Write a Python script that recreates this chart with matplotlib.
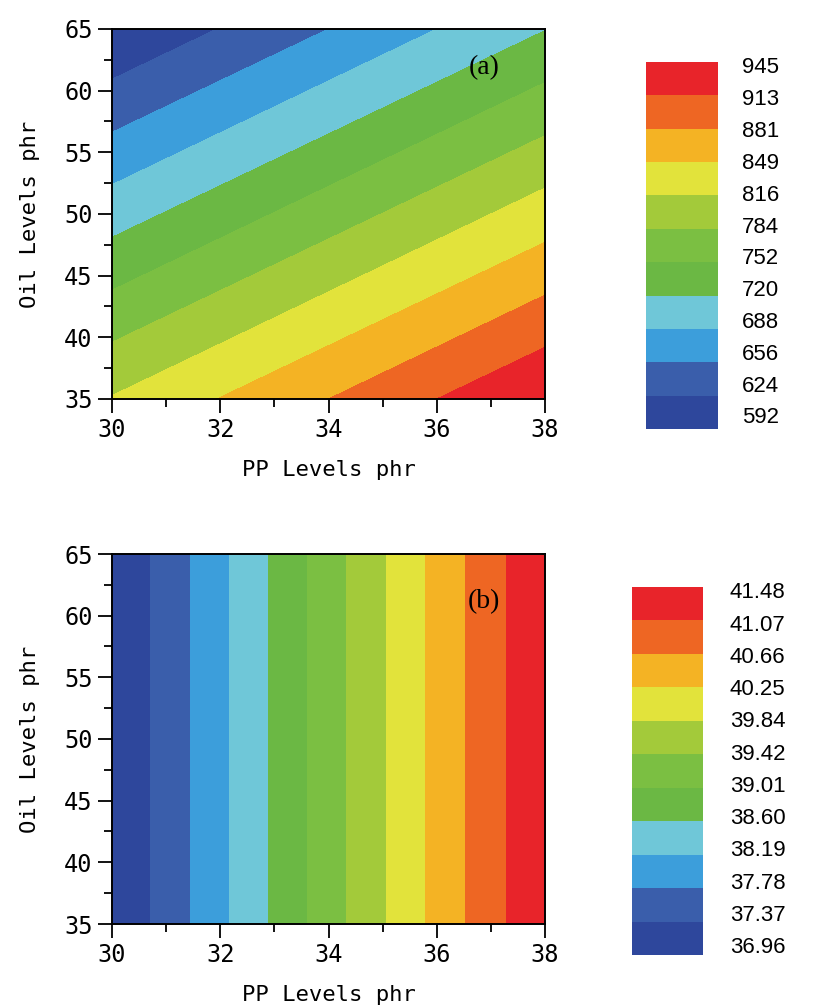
import numpy as np
import matplotlib
matplotlib.use("Agg")
import matplotlib.pyplot as plt
from matplotlib.ticker import MultipleLocator

# PP / Oil grid (phr) and response values (a)
pp_a = [30, 32, 34, 36, 38]
oil_a = [35, 40, 45, 50, 55, 60, 65]
resp_a = [
    [818, 850, 881, 913, 944],
    [781, 812, 844, 875, 907],
    [743, 775, 806, 838, 869],
    [706, 737, 769, 800, 832],
    [668, 700, 731, 763, 794],
    [631, 662, 694, 725, 757],
    [593, 625, 656, 688, 719],
]
levels_a = [592, 624, 656, 688, 720, 752, 784, 816, 849, 881, 913, 945]
labels_a = ["592", "624", "656", "688", "720", "752", "784", "816", "849", "881", "913", "945"]

# map (b) only changes along PP
pp_b = [30, 32, 34, 36, 38]
oil_b = [35, 65]
resp_b = [36.97, 38.10, 39.24, 40.37, 41.47]
levels_b = [36.96, 37.37, 37.78, 38.19, 38.60, 39.01, 39.42, 39.84, 40.25, 40.66, 41.07, 41.48]
labels_b = ["36.96", "37.37", "37.78", "38.19", "38.60", "39.01", "39.42", "39.84",
            "40.25", "40.66", "41.07", "41.48"]

band_colors = ["#2E479C", "#3A5EAB", "#3C9EDB", "#6FC7D8", "#6BB844", "#7BBF42",
               "#A3CA3A", "#E2E33B", "#F4B324", "#EE6623", "#E8242A"]

W, H = 813, 1008
fig = plt.figure(figsize=(W / 100, H / 100), dpi=100)

tick_font = {"family": "DejaVu Sans Mono", "size": 17}
label_font = {"family": "DejaVu Sans Mono", "size": 16}


def px_box(l, t, r, b):
    return [l / W, 1 - b / H, (r - l) / W, (b - t) / H]


def style_axes(ax):
    ax.set_xlim(30, 38)
    ax.set_ylim(35, 65)
    ax.xaxis.set_major_locator(MultipleLocator(2))
    ax.xaxis.set_minor_locator(MultipleLocator(1))
    ax.yaxis.set_major_locator(MultipleLocator(5))
    ax.yaxis.set_minor_locator(MultipleLocator(2.5))
    ax.tick_params(which="both", direction="out", top=False, right=False, width=1.3)
    ax.tick_params(which="major", length=10, pad=4)
    ax.tick_params(which="minor", length=6)
    for lab in ax.get_xticklabels() + ax.get_yticklabels():
        lab.set_fontfamily(tick_font["family"])
        lab.set_fontsize(tick_font["size"])
    for s in ax.spines.values():
        s.set_linewidth(1.4)
    ax.set_xlabel("PP Levels phr", fontdict=label_font)
    ax.set_ylabel("Oil Levels phr", fontdict=label_font)
    ax.xaxis.set_label_coords(0.5, -0.192)
    ax.xaxis.label.set_verticalalignment("center")
    ax.yaxis.set_label_coords(-0.19, 0.5)
    ax.yaxis.label.set_verticalalignment("center")


def draw_legend(cax, levels, labels, top_frac, bot_frac, x_frac):
    cmap = matplotlib.colors.ListedColormap(band_colors)
    norm = matplotlib.colors.BoundaryNorm(levels, cmap.N)
    cb = matplotlib.colorbar.ColorbarBase(cax, cmap=cmap, norm=norm, boundaries=levels,
                                          spacing="uniform")
    cb.outline.set_visible(False)
    cax.minorticks_off()
    cax.set_yticks([])
    cax.set_xticks([])
    cax.tick_params(which="both", length=0)
    ys = np.linspace(bot_frac, top_frac, len(labels))
    for y, lab in zip(ys, labels):
        cax.text(x_frac, y, lab, transform=cax.transAxes, ha="left", va="center",
                 fontsize=16, family="Liberation Sans")


# panel (a)
ax1 = fig.add_axes(px_box(112, 29, 545, 399))
ax1.contourf(pp_a, oil_a, np.array(resp_a), levels=levels_a, colors=band_colors)
style_axes(ax1)
ax1.text(0.86, 0.895, "(a)", transform=ax1.transAxes, ha="center", va="center",
         fontsize=20, family="Liberation Serif")

cax1 = fig.add_axes(px_box(646, 62, 718, 429))
draw_legend(cax1, levels_a, labels_a, 0.984, 0.03, 1.33)

# panel (b)
ax2 = fig.add_axes(px_box(112, 554, 545, 924))
ax2.contourf(pp_b, oil_b, np.tile(resp_b, (len(oil_b), 1)), levels=levels_b, colors=band_colors)
style_axes(ax2)
ax2.text(0.86, 0.87, "(b)", transform=ax2.transAxes, ha="center", va="center",
         fontsize=20, family="Liberation Serif")

cax2 = fig.add_axes(px_box(632, 587, 703, 955))
draw_legend(cax2, levels_b, labels_b, 0.984, 0.02, 1.38)

fig.savefig("out.png", dpi=100)
